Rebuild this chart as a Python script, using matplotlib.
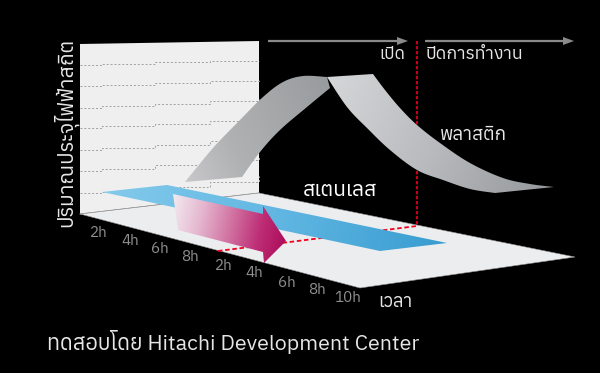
import matplotlib
matplotlib.use("Agg")
import matplotlib.pyplot as plt
from matplotlib import font_manager as fm
from matplotlib.colors import LinearSegmentedColormap
from matplotlib.patches import Polygon
from matplotlib.ft2font import FT2Font
import numpy as np

# ---- font: look for an installed family with Thai glyphs
thai = []
for f in fm.fontManager.ttflist:
    try:
        if 0x0E01 in FT2Font(f.fname).get_charmap():
            thai.append(f.name)
    except Exception:
        pass
FAMILY = ([sorted(set(thai))[0]] if thai else []) + ["DejaVu Sans"]
plt.rcParams["font.family"] = FAMILY

# ---- data (pixel space of the illustration)
wall_x = [80, 259, 259, 80]
wall_y = [44, 41, 193, 214]
floor_x = [80, 259, 575, 360]
floor_y = [214, 193, 257, 288]

grid_x = [80, 102, 155, 210, 259]
grid_y = [
    [65, 64, 62, 61, 61],
    [86, 85, 83, 81, 80],
    [108, 106, 104, 101, 99],
    [128, 126, 124, 121, 118],
    [150, 148, 145, 141, 138],
    [171, 169, 165, 160, 157],
    [193, 192, 187, 182, 176],
]

strip_x = [102, 167, 447, 380]
strip_y = [192, 185, 243, 251]

arrow_x = [173, 263, 263, 286, 264, 263, 178]
arrow_y = [194, 214, 206, 241, 263, 252, 230]

rise_top_x = [185, 213, 240, 263, 283, 303, 327]
rise_top_y = [182, 148, 120, 97, 82, 76, 77]
rise_low_x = [330, 307, 280, 260, 242]
rise_low_y = [88, 107, 130, 152, 177]

fall_top_x = [373, 385, 400, 417, 440, 470, 503, 530, 554]
fall_top_y = [74, 90, 108, 125, 143, 163, 178, 184, 187]
fall_low_x = [495, 470, 443, 417, 390, 367, 347, 327]
fall_low_y = [193, 189, 180, 170, 150, 128, 107, 77]

tick_labels = ["2h", "4h", "6h", "8h", "2h", "4h", "6h", "8h", "10h"]
tick_x = [99, 130, 160, 190, 224, 254, 287, 317, 348]
tick_y = [233, 241, 249, 257, 266, 273, 283, 290, 298]

fig = plt.figure(figsize=(6.0, 3.73), dpi=100, facecolor="black")
ax = fig.add_axes([0, 0, 1, 1])
ax.set_facecolor("black")
ax.axis("off")


def smooth(xs, ys, n=12):
    """Catmull-Rom outline through the read points, for drawing only."""
    p = np.c_[xs, ys].astype(float)
    q = np.vstack([p[0], p, p[-1]])
    out = []
    for i in range(1, len(q) - 2):
        for t in np.linspace(0, 1, n, endpoint=False):
            a, b, c, d = q[i - 1], q[i], q[i + 1], q[i + 2]
            out.append(0.5 * (2 * b + (c - a) * t + (2 * a - 5 * b + 4 * c - d) * t ** 2
                              + (3 * b - a - 3 * c + d) * t ** 3))
    out.append(p[-1])
    out = np.array(out)
    return list(out[:, 0]), list(out[:, 1])


def grad_poly(xs, ys, colors, z, angle=0.0):
    """Polygon filled with a linear gradient along `angle` (deg)."""
    poly = Polygon(np.c_[xs, ys], closed=True, transform=ax.transData, fc="none", ec="none")
    ax.add_patch(poly)
    x0, x1, y0, y1 = min(xs), max(xs), min(ys), max(ys)
    gx, gy = np.meshgrid(np.linspace(x0, x1, 300), np.linspace(y0, y1, 300))
    a = np.deg2rad(angle)
    g = gx * np.cos(a) + gy * np.sin(a)
    g = (g - g.min()) / (g.max() - g.min())
    cm = LinearSegmentedColormap.from_list("g", colors)
    im = ax.imshow(g, extent=(x0, x1, y1, y0), cmap=cm, origin="upper",
                   aspect="auto", zorder=z, interpolation="bilinear")
    im.set_clip_path(poly)


ax.fill(wall_x, wall_y, color="#efeff0", lw=0, zorder=1)
for ys in grid_y:
    ax.plot(grid_x, ys, drawstyle="steps-post", color="#a0a0a0", lw=0.7, ls=(0, (2, 2)), zorder=2)
ax.plot([wall_x[3], wall_x[2]], [wall_y[3], wall_y[2]], color="#9a9a9a", lw=0.7, zorder=2)
ax.fill(floor_x, floor_y, fc="#ecedef", ec="#8e8e8e", lw=0.4, zorder=3)

# plastic curve
tx, ty = smooth(rise_top_x, rise_top_y)
lx, ly = smooth(rise_low_x, rise_low_y)
grad_poly(tx + lx, ty + ly, ["#c8c8ca", "#b0b1b3", "#a4a6a8", "#989b9e"], 2.5, angle=-25)
tx, ty = smooth([327] + fall_top_x[:1], [77] + fall_top_y[:1], n=2)
sx, sy = smooth(fall_top_x, fall_top_y)
lx, ly = smooth(fall_low_x, fall_low_y)
grad_poly(tx + sx + lx, ty + sy + ly, ["#d6d7d9", "#b8babd", "#94979b"], 4, angle=25)

# red markers
RED = "#f0001e"
ax.plot([417, 417], [41, 125], color=RED, lw=1.2, ls=(0, (2, 1)), zorder=3.5)
ax.plot([417, 417], [171, 226], color=RED, lw=1.2, ls=(0, (2, 1)), zorder=3.5)
ax.plot([218, 417], [251, 226], color=RED, lw=1.3, ls=(0, (2.5, 1.5)), zorder=3.5)

grad_poly(strip_x, strip_y, ["#84caec", "#62b7e2", "#379cd0"], 5, angle=12)
grad_poly(arrow_x, arrow_y, ["#f3eaf0", "#e5b8d0", "#d274a3", "#bd2d75", "#ab0858"], 6, angle=12)

# timeline arrows
GREY = "#8a8a8a"
for x0, x1 in ((268, 408), (425, 574)):
    ax.plot([x0, x1 - 8], [41, 41], color=GREY, lw=1.6, zorder=3, solid_capstyle="butt")
    ax.fill([x1 - 11, x1, x1 - 11], [37, 41, 45], color=GREY, lw=0, zorder=3)

# text
for s, x, y in zip(tick_labels, tick_x, tick_y):
    ax.text(x, y, s, color="#8f8f8f", fontsize=11, ha="center", va="center", zorder=7)
W = "#e6e6e6"
ax.text(66, 132, "ปริมาณประจุไฟฟ้าสถิต", rotation=90, color=W, fontsize=15, ha="center", va="center", zorder=7)
ax.text(392, 54, "เปิด", color=W, fontsize=12.5, ha="center", va="center", zorder=7)
ax.text(474, 54, "ปิดการทำงาน", color=W, fontsize=12.8, ha="center", va="center", zorder=7)
ax.text(473, 135, "พลาสติก", color=W, fontsize=13.5, ha="center", va="center", zorder=7)
ax.text(340, 190, "สเตนเลส", color="white", fontsize=15, fontweight="bold", ha="center", va="center", zorder=7)
ax.text(395, 302, "เวลา", color=W, fontsize=13.3, ha="center", va="center", zorder=7)
ax.text(47, 342, "ทดสอบโดย Hitachi Development Center", color=W, fontsize=15.4, ha="left", va="center", zorder=7)

ax.set_xlim(0, 600)
ax.set_ylim(373, 0)
fig.savefig("out.png", dpi=100, facecolor="black")
